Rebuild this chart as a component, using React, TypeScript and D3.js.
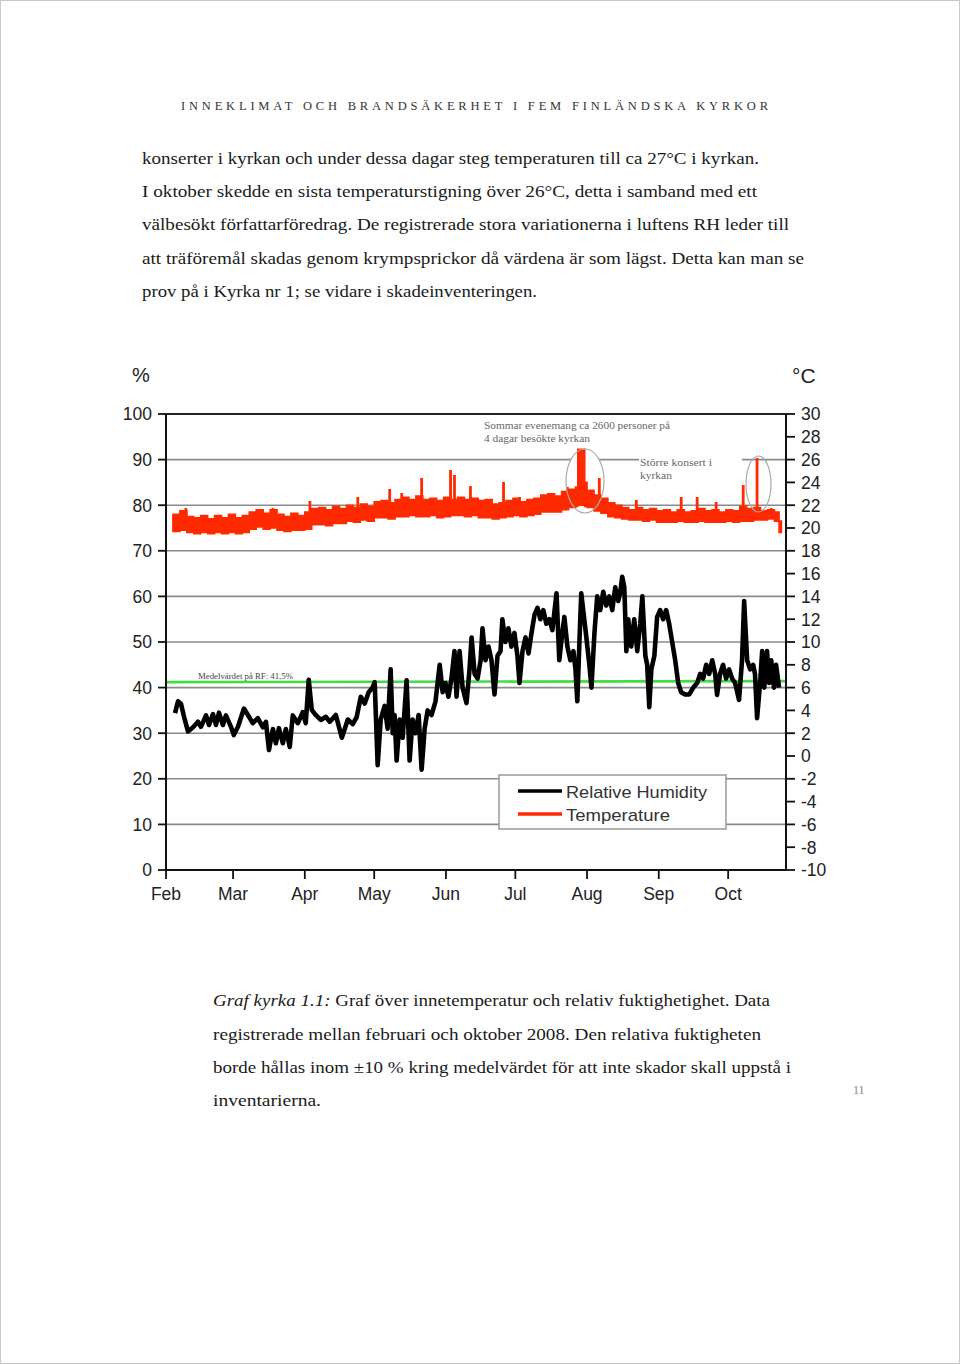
import React from 'react';
import * as d3 from 'd3';

const W = 960;
const H = 1364;

const headerText = 'INNEKLIMAT OCH BRANDSÄKERHET I FEM FINLÄNDSKA KYRKOR';
const bodyLines = [
  'konserter i kyrkan och under dessa dagar steg temperaturen till ca 27°C i kyrkan.',
  'I oktober skedde en sista temperaturstigning över 26°C, detta i samband med ett',
  'välbesökt författarföredrag. De registrerade stora variationerna i luftens RH leder till',
  'att träföremål skadas genom krympsprickor då värdena är som lägst. Detta kan man se',
  'prov på i Kyrka nr 1; se vidare i skadeinventeringen.',
];
const bodyWidths = [617, 615, 647, 662, 395];
const captionItalic = 'Graf kyrka 1.1:';
const captionLines = [
  ' Graf över innetemperatur och relativ fuktighetighet. Data',
  'registrerade mellan februari och oktober 2008. Den relativa fuktigheten',
  'borde hållas inom ±10 % kring medelvärdet för att inte skador skall uppstå i',
  'inventarierna.',
];
const captionWidths = [557, 548, 578, 108];
const pageNumber = '11';

const monthLabels = ['Feb', 'Mar', 'Apr', 'May', 'Jun', 'Jul', 'Aug', 'Sep', 'Oct'];
const rhTicks = [0, 10, 20, 30, 40, 50, 60, 70, 80, 90, 100];
const tempTicks = [-10, -8, -6, -4, -2, 0, 2, 4, 6, 8, 10, 12, 14, 16, 18, 20, 22, 24, 26, 28, 30];
const gridLevels = [10, 20, 30, 40, 50, 60, 70, 80, 90];
const rhMeanLabel = 'Medelvärdet på RF: 41,5%';
const rhMeanLevel = 41.2;
const legendLabels = ['Relative Humidity', 'Temperature'];
const annotationEvent = ['Sommar evenemang ca 2600 personer på', '4 dagar besökte kyrkan'];
const annotationConcert = ['Större konsert i', 'kyrkan'];

// days since 1 Feb 2008
const rhDays = [3.9,5.2,6.5,7.8,9.5,11.7,13.8,15.1,17.3,18.6,20.3,21.6,22.9,24.6,25.9,28.1,29.3,31.1,33.7,35.4,37.5,39.7,41.9,43.2,44.5,46.2,47.5,48.8,50.5,51.8,53.5,54.8,57.0,59.1,60.4,61.7,63.0,64.7,66.9,69.1,70.8,73.4,76.0,78.6,80.7,82.4,84.2,85.9,87.6,89.3,90.2,91.5,92.8,94.5,95.8,97.1,98.0,98.8,99.7,101.0,102.3,104.0,105.3,106.6,107.9,109.2,110.5,111.8,113.1,114.8,116.5,118.3,119.6,120.8,122.1,123.4,124.7,125.6,126.9,128.2,129.9,131.2,132.1,133.4,134.7,136.0,136.8,138.1,139.4,140.7,142.0,143.3,144.6,145.4,146.7,148.0,149.3,150.6,151.9,152.8,154.1,155.4,156.7,158.0,159.3,160.6,161.8,163.1,164.4,165.7,167.0,168.8,170.0,171.3,172.2,173.5,174.8,176.1,177.0,177.8,178.7,179.5,180.8,181.7,183.0,183.9,185.2,186.4,187.7,189.0,190.3,191.6,192.9,194.2,195.5,196.4,197.2,198.1,199.0,199.8,201.1,202.4,203.7,205.0,205.9,207.2,208.0,208.9,209.8,211.1,212.3,213.6,214.9,216.2,217.5,218.8,220.1,221.4,222.7,224.4,226.2,227.9,229.6,230.9,232.2,233.5,234.8,236.1,237.4,238.2,239.5,240.8,242.1,243.4,244.7,246.0,247.7,249.0,249.9,251.2,252.5,253.8,254.6,255.5,256.8,257.7,258.6,259.8,260.7,261.6,262.8,263.7,265.0];
const rhValues = [34.4,37.0,36.4,33.6,30.4,31.3,32.5,31.4,33.9,31.8,34.2,31.8,34.5,31.8,33.9,31.4,29.6,31.4,35.4,34.0,32.2,33.3,31.3,32.5,26.3,30.9,27.8,31.1,27.8,30.9,27.0,33.9,32.2,34.6,32.2,41.7,35.1,34.0,32.9,33.6,
  32.5,34,29,33,32,33.5,38,36.5,39,40,
  41.2,23,33,36,31,44,30,34,24,33,
  29,41.6,24,33,30,34,22,31,35,34,
  37,45,39,41,38,42,48,38,48,40,
  36.6,44,51,43,42,46,53,46,49,46,
  38.5,47,48,55,50,53,49,52,47,41,
  48,51,47.5,52,56,57.5,55,57,54,55,
  52.6,60.7,46,52,55.5,49,46,48,44,37,
  50,60.7,55,51,45,40,52,60,57,61,
  58,60,57,62,59,61,64.3,62,48,55,
  49,55,48,54,60,47,45,35.7,44,47,
  55.5,57,55,57,54,50,46,41,39,38.5,
  38.5,40,41,43,42,45,43,46,43,38.4,
  43,45,42,44,42,41,37.3,46,59,46,
  44,45,43,33.3,41,48,40,48,41,46,
  40,45,40];

const tempDays = [3,6,9,12,15,18,21,24,27,30,33,36,39,42,45,48,51,54,57,60,63,66,69,72,75,78,81,84,87,90,93,96,99,102,105,108,111,114,117,120,123,126,129,132,135,138,141,144,147,150,153,156,159,162,165,168,171,174,177,178,181,182,185,188,191,194,197,200,203,206,209,212,215,218,221,224,227,230,233,236,239,242,245,248,251,254,257,260,263,265,266];
const tempHigh = [21.2,21.5,21.0,20.9,21.1,20.8,21.1,20.9,21.2,20.9,
  21.1,21.4,21.6,21.3,21.6,21.2,21.0,21.3,21.1,21.4,
  21.7,21.8,21.6,21.9,21.7,22.0,21.8,22.1,21.9,22.3,
  22.4,22.2,22.5,22.7,22.5,22.8,22.5,22.6,22.4,22.7,
  22.5,22.7,22.5,22.6,22.4,22.5,22.1,22.2,22.4,22.6,
  22.3,22.5,22.6,22.9,23.0,22.8,23.2,23.4,23.6,
  26.9,24.0,23.3,
  22.9,22.6,22.2,22.0,21.8,21.6,21.8,21.6,21.7,21.5,
  21.6,21.4,21.6,21.4,21.5,21.7,21.5,21.6,21.4,21.6,
  21.5,21.9,21.7,21.8,21.5,21.6,21.4,
  20.6,20.4];
const tempLow = [19.7,19.8,19.6,19.5,19.6,19.5,19.6,19.5,19.6,19.5,
  19.6,19.9,20.1,19.9,20.0,19.8,19.7,19.8,19.8,19.9,
  20.3,20.3,20.2,20.4,20.4,20.6,20.5,20.7,20.6,20.9,
  20.9,20.8,21.0,21.0,21.1,21.0,21.0,21.1,20.9,21.0,
  21.1,21.1,21.0,21.1,20.9,20.9,20.8,20.9,21.0,21.1,
  21.0,21.1,21.2,21.4,21.4,21.4,21.6,21.8,21.9,
  22.0,21.9,21.8,
  21.5,21.3,21.0,20.9,20.8,20.7,20.7,20.6,20.7,20.5,
  20.5,20.5,20.6,20.5,20.5,20.6,20.5,20.5,20.5,20.6,
  20.5,20.6,20.6,20.7,20.7,20.8,20.6,
  19.6,19.6];
const tempSpikeDays = [8.6,46.2,62.2,82.9,91.5,96.7,101.9,110.5,123.0,124.7,131.6,145.9,152.8,173.5,187.3,203.3,222.7,229.6,237.8,249.5,255.5,261.6];
const tempSpikeValues = [21.75,21.75,22.37,22.72,22.28,23.42,23.07,24.39,25.09,24.65,23.68,24.04,22.72,23.6,24.39,22.46,22.72,22.72,22.28,23.77,26.14,21.75];

// plot box
const L = 166, R = 786, T = 414, B = 870;
const t0 = Date.UTC(2008, 1, 1);
const dayToDate = (d: number) => new Date(t0 + d * 86400000);

export default function App() {
  const x = d3.scaleUtc().domain([new Date(t0), new Date(Date.UTC(2008, 9, 26))]).range([L, R]);
  const yRH = d3.scaleLinear().domain([0, 100]).range([B, T]);
  const yT = d3.scaleLinear().domain([-10, 30]).range([B, T]);

  const n = Math.min(rhDays.length, rhValues.length);
  const rhData = d3.range(n).map(i => [rhDays[i], rhValues[i]] as [number, number]);
  const rhLine = d3.line<[number, number]>()
    .x(d => x(dayToDate(d[0])))
    .y(d => yRH(d[1]))(rhData) || '';

  const tn = Math.min(tempDays.length, tempHigh.length, tempLow.length);
  const tData = d3.range(tn).map(i => ({ d: tempDays[i], hi: tempHigh[i], lo: tempLow[i] }));
  const tArea = d3.area<{ d: number; hi: number; lo: number }>()
    .curve(d3.curveStepAfter)
    .x(d => x(dayToDate(d.d)))
    .y0(d => yT(d.lo))
    .y1(d => yT(d.hi))(tData) || '';

  const bis = d3.bisector((v: number) => v).right;
  const spikes = tempSpikeDays.map((d, i) => {
    const idx = Math.max(0, bis(tempDays, d) - 1);
    return { d, v: tempSpikeValues[i], base: tempLow[idx] };
  });

  const months = monthLabels.map((m, i) => ({ m, date: new Date(Date.UTC(2008, 1 + i, 1)) }));

  const serif = "'Liberation Serif', 'DejaVu Serif', serif";
  const sans = "'Liberation Sans', Arial, sans-serif";
  const red = '#ff2a00';

  return (
    <svg width={W} height={H} style={{ position: 'absolute', left: 0, top: 0, background: '#fff' }}>
      <rect x={0.5} y={0.5} width={W - 1} height={H - 1} fill="#fff" stroke="#c8c8c8" />

      {/* header */}
      <text x={181} y={109.5} fontFamily={serif} fontSize={12.5} fill="#333" textLength={587} lengthAdjust="spacing">
        {headerText}
      </text>

      {/* body text */}
      {bodyLines.map((s, i) => (
        <text key={i} x={142} y={[164, 197, 230, 264, 297][i]} fontFamily={serif} fontSize={17.5} fill="#1a1a1a"
          textLength={bodyWidths[i]} lengthAdjust="spacingAndGlyphs">{s}</text>
      ))}

      {/* chart */}
      <g>
        {gridLevels.map(g => (
          <line key={g} x1={L} x2={R} y1={yRH(g)} y2={yRH(g)} stroke="#8a8a8a" strokeWidth={1.6} />
        ))}
        <ellipse cx={585} cy={481} rx={19} ry={32} fill="#fff" stroke="none" />
        <rect x={639} y={453} width={103} height={28} fill="#fff" />

        {/* mean line */}
        <line x1={L} x2={R} y1={yRH(rhMeanLevel)} y2={yRH(rhMeanLevel) - 1} stroke="#3ee03e" strokeWidth={2.6} />
        <text x={198} y={679} fontFamily={serif} fontSize={8} fill="#444" textLength={95} lengthAdjust="spacingAndGlyphs">{rhMeanLabel}</text>

        {/* annotations */}
        {annotationEvent.map((s, i) => (
          <text key={i} x={484} y={429 + i * 13} fontFamily={serif} fontSize={10.5} fill="#666"
            textLength={i === 0 ? 186 : 106} lengthAdjust="spacingAndGlyphs">{s}</text>
        ))}
        {annotationConcert.map((s, i) => (
          <text key={i} x={640} y={465.5 + i * 13} fontFamily={serif} fontSize={10.5} fill="#666"
            textLength={i === 0 ? 72 : 32} lengthAdjust="spacingAndGlyphs">{s}</text>
        ))}

        {/* temperature */}
        <path d={tArea} fill={red} stroke={red} strokeWidth={1.6} />
        {spikes.map((s, i) => (
          <rect key={i} x={x(dayToDate(s.d)) - 1.4} width={2.8} y={yT(s.v)} height={Math.max(0, yT(s.base) - yT(s.v))} fill={red} />
        ))}

        {/* RH */}
        <path d={rhLine} fill="none" stroke="#000" strokeWidth={4.6} strokeLinejoin="round" />

        {/* ellipse outlines */}
        <ellipse cx={585} cy={481} rx={19} ry={32} fill="none" stroke="#aaa" strokeWidth={1.2} />
        <ellipse cx={758.5} cy={484} rx={12.5} ry={28} fill="none" stroke="#aaa" strokeWidth={1.2} />

        {/* frame */}
        <line x1={L} x2={R} y1={T} y2={T} stroke="#222" strokeWidth={2} />
        <line x1={L} x2={R} y1={B} y2={B} stroke="#111" strokeWidth={2} />
        <line x1={L} x2={L} y1={T} y2={B} stroke="#111" strokeWidth={2} />
        <line x1={R} x2={R} y1={T} y2={B} stroke="#111" strokeWidth={2} />

        {/* left axis */}
        {rhTicks.map(t => (
          <g key={t}>
            <line x1={L - 8} x2={L} y1={yRH(t)} y2={yRH(t)} stroke="#111" strokeWidth={1.8} />
            <text x={152} y={yRH(t)} dy="0.36em" textAnchor="end" fontFamily={sans} fontSize={17.5} fill="#222">{t}</text>
          </g>
        ))}
        <text x={132} y={382} fontFamily={sans} fontSize={20} fill="#222">%</text>

        {/* right axis */}
        {tempTicks.map(t => (
          <g key={t}>
            <line x1={R} x2={R + 9} y1={yT(t)} y2={yT(t)} stroke="#111" strokeWidth={1.8} />
            <text x={801} y={yT(t)} dy="0.36em" fontFamily={sans} fontSize={17.5} fill="#222">{t < 0 ? '-' + Math.abs(t) : t}</text>
          </g>
        ))}
        <text x={792} y={383} fontFamily={sans} fontSize={21} fill="#222">°C</text>

        {/* x axis */}
        {months.map(m => (
          <g key={m.m}>
            <line x1={x(m.date)} x2={x(m.date)} y1={B} y2={B + 9} stroke="#111" strokeWidth={1.8} />
            <text x={x(m.date)} y={900} textAnchor="middle" fontFamily={sans} fontSize={17.5} fill="#222">{m.m}</text>
          </g>
        ))}

        {/* legend */}
        <rect x={499} y={775} width={227} height={54} fill="#fff" stroke="#9a9a9a" strokeWidth={1.5} />
        <line x1={518} x2={562} y1={791} y2={791} stroke="#000" strokeWidth={3.5} />
        <line x1={518} x2={562} y1={814} y2={814} stroke={red} strokeWidth={3.5} />
        <text x={566} y={798} fontFamily={sans} fontSize={17} fill="#333" textLength={141} lengthAdjust="spacingAndGlyphs">{legendLabels[0]}</text>
        <text x={566} y={821} fontFamily={sans} fontSize={17} fill="#333" textLength={104} lengthAdjust="spacingAndGlyphs">{legendLabels[1]}</text>
      </g>

      {/* caption */}
      {captionLines.map((s, i) => (
        <text key={i} x={213} y={[1006, 1040, 1073, 1106][i]} fontFamily={serif} fontSize={17.5} fill="#1a1a1a"
          textLength={captionWidths[i]} lengthAdjust="spacingAndGlyphs">
          {i === 0 ? <tspan fontStyle="italic">{captionItalic}</tspan> : null}
          {s}
        </text>
      ))}

      <text x={853} y={1094} fontFamily={serif} fontSize={12} fill="#888">{pageNumber}</text>
    </svg>
  );
}
